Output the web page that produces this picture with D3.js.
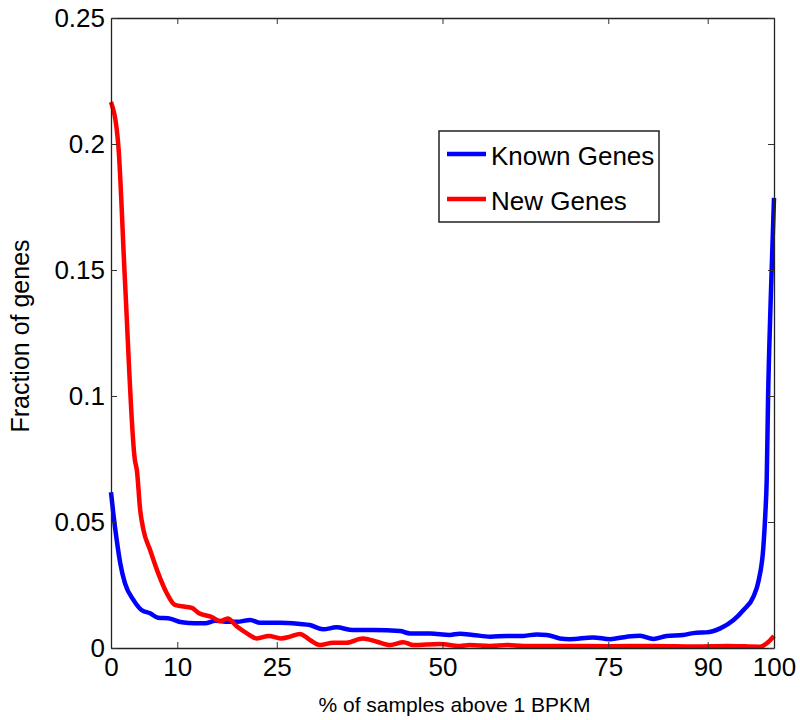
<!DOCTYPE html>
<html lang="en">
<head>
    <meta charset="UTF-8">
    <title>Fraction of genes vs % of samples above 1 BPKM</title>
    <script src="https://d3js.org/d3.v7.min.js"></script>
    <style>
        body { margin: 0; background: white; }
        .chart { display: block; }
        text { font-family: "Liberation Sans", Arial, Helvetica, sans-serif; fill: #000; }
    </style>
</head>
<body>
    <svg class="chart" width="800" height="720"></svg>

    <script>
        // Data
        const knownX = [0, 0.35, 0.86, 1.4, 2.1, 3.4, 4.6, 5.9, 7.1, 8.6, 10.7, 12.7, 14.2, 15.7, 17.7, 19, 21, 22.5, 25.5, 28.5, 30, 32, 34, 36.5, 39.6, 43.6, 45.1, 48.1, 51.1, 52.6, 54.6, 57.2, 59.7, 62.2, 64.2, 65.7, 67.7, 69.2, 72.7, 75.3, 77.8, 79.8, 81.8, 83.8, 86.3, 88.3, 89.8, 91.9, 93.9, 95.4, 96.9, 97.7, 98.4, 98.7, 98.9, 99.1, 99.5, 100];
        const knownY = [0.0618, 0.0534, 0.0429, 0.0336, 0.0257, 0.0190, 0.0151, 0.0138, 0.0120, 0.0118, 0.0102, 0.0098, 0.0098, 0.0108, 0.0104, 0.0104, 0.0111, 0.0100, 0.0100, 0.0095, 0.0091, 0.0074, 0.0082, 0.0071, 0.0071, 0.0067, 0.0058, 0.0058, 0.0052, 0.0057, 0.0052, 0.0045, 0.0048, 0.0048, 0.0054, 0.0052, 0.0038, 0.0035, 0.0042, 0.0035, 0.0045, 0.0049, 0.0036, 0.0048, 0.0052, 0.0061, 0.0062, 0.0078, 0.0111, 0.0151, 0.0204, 0.0270, 0.0402, 0.0536, 0.0667, 0.0984, 0.1380, 0.1786];

        const newX = [0, 1.1, 2.1, 3.6, 3.9, 4.4, 4.9, 5.9, 7.1, 8.4, 9.65, 11.2, 12.2, 13.2, 15.2, 16.5, 17.6, 19, 20.5, 22, 23.8, 25.6, 27, 28.5, 30, 31.5, 33.5, 35.5, 38, 40.1, 42.1, 44.1, 45.6, 49.6, 52.6, 54.1, 57.2, 59.7, 62.2, 69.2, 75, 82, 88, 93, 97.9, 98.9, 100];
        const newY = [0.2167, 0.1996, 0.1460, 0.0746, 0.0706, 0.0548, 0.0468, 0.0389, 0.0298, 0.0218, 0.0171, 0.0164, 0.0159, 0.0139, 0.0123, 0.0107, 0.0117, 0.0085, 0.0058, 0.0038, 0.0048, 0.0038, 0.0045, 0.0056, 0.0032, 0.0012, 0.0021, 0.0021, 0.0038, 0.0025, 0.0012, 0.0023, 0.0012, 0.0016, 0.0008, 0.0012, 0.0008, 0.0012, 0.0008, 0.0008, 0.0007, 0.0008, 0.0006, 0.0008, 0.0005, 0.0019, 0.0048];

        const seriesNames = ["Known Genes", "New Genes"];
        const seriesColors = ["#0000ff", "#ff0000"];

        const xTicks = [0, 10, 25, 50, 75, 90, 100];
        const yTicks = [0, 0.05, 0.1, 0.15, 0.2, 0.25];

        const margin = { top: 18, right: 26, bottom: 72, left: 111 },
              width = 800 - margin.left - margin.right,
              height = 720 - margin.top - margin.bottom;

        const svg = d3.select(".chart")
            .append("g")
            .attr("transform", `translate(${margin.left},${margin.top})`);

        const x = d3.scaleLinear().domain([0, 100]).range([0, width]);
        const y = d3.scaleLinear().domain([0, 0.25]).range([height, 0]);

        const series = [
            { name: seriesNames[0], color: seriesColors[0], values: knownX.map((v, i) => ({ x: v, y: knownY[i] })) },
            { name: seriesNames[1], color: seriesColors[1], values: newX.map((v, i) => ({ x: v, y: newY[i] })) }
        ];

        const line = d3.line()
            .x(d => x(d.x))
            .y(d => y(d.y))
            .curve(d3.curveMonotoneX);

        // Lines
        svg.selectAll(".series")
            .data(series)
            .enter().append("path")
            .attr("class", "series")
            .attr("d", d => line(d.values))
            .attr("fill", "none")
            .attr("stroke", d => d.color)
            .attr("stroke-width", 4.5)
            .attr("stroke-linejoin", "round");

        // Axes (box style, ticks pointing inward)
        const tickLen = 6;
        function styleAxis(g) {
            g.selectAll(".domain").attr("stroke", "#222").attr("stroke-width", 1.3);
            g.selectAll(".tick line").attr("stroke", "#333").attr("stroke-width", 1);
            g.selectAll("text").style("font-size", "26px").attr("fill", "#000");
        }

        svg.append("g")
            .attr("transform", `translate(0,${height})`)
            .call(d3.axisBottom(x).tickValues(xTicks).tickSize(-tickLen).tickSizeOuter(0).tickPadding(10).tickFormat(d3.format("d")))
            .call(styleAxis);

        svg.append("g")
            .call(d3.axisTop(x).tickValues(xTicks).tickSize(-tickLen).tickSizeOuter(0).tickFormat(""))
            .call(styleAxis);

        svg.append("g")
            .call(d3.axisLeft(y).tickValues(yTicks).tickSize(-tickLen).tickSizeOuter(0).tickPadding(6).tickFormat(d => d === 0 ? "0" : d3.format("")(d)))
            .call(styleAxis);

        svg.append("g")
            .attr("transform", `translate(${width},0)`)
            .call(d3.axisRight(y).tickValues(yTicks).tickSize(-tickLen).tickSizeOuter(0).tickFormat(""))
            .call(styleAxis);

        // Axis titles
        svg.append("text")
            .attr("x", width / 2 + 12)
            .attr("y", height + 64)
            .attr("text-anchor", "middle")
            .style("font-size", "21px")
            .text("% of samples above 1 BPKM");

        svg.append("text")
            .attr("transform", `translate(${-82},${height / 2 + 3}) rotate(-90)`)
            .attr("text-anchor", "middle")
            .style("font-size", "25px")
            .text("Fraction of genes");

        // Legend
        const legend = svg.append("g")
            .attr("transform", `translate(${439 - margin.left},${131 - margin.top})`);

        legend.append("rect")
            .attr("width", 220)
            .attr("height", 91)
            .attr("fill", "white")
            .attr("stroke", "#222")
            .attr("stroke-width", 1.5);

        const items = legend.selectAll(".item")
            .data(series)
            .enter().append("g")
            .attr("class", "item")
            .attr("transform", (d, i) => `translate(0,${23 + i * 45})`);

        items.append("line")
            .attr("x1", 8).attr("x2", 47)
            .attr("stroke", d => d.color)
            .attr("stroke-width", 4.5);

        items.append("text")
            .attr("x", 52)
            .attr("y", 11)
            .style("font-size", "26px")
            .text(d => d.name);
    </script>
</body>
</html>
